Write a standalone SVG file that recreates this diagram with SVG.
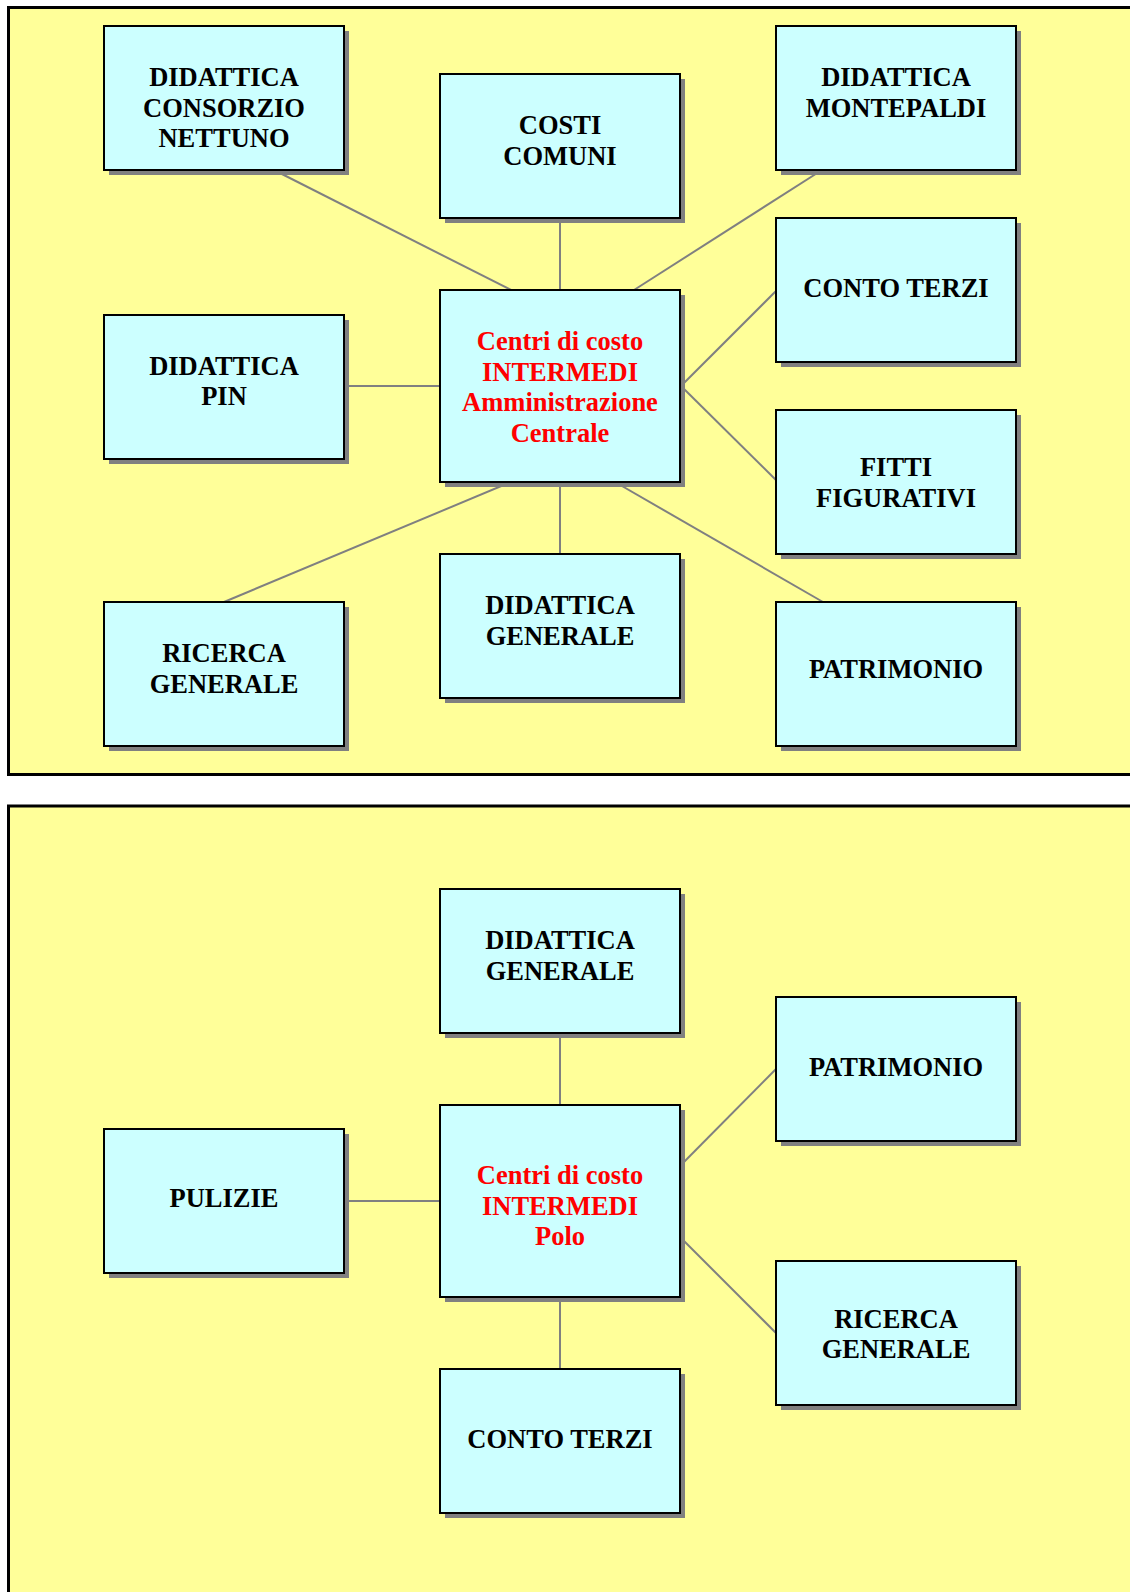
<svg xmlns="http://www.w3.org/2000/svg" width="1130" height="1592" viewBox="0 0 1130 1592">
  <style>
    .frame { fill: #FFFF99; stroke: #000000; stroke-width: 3; }
    .shadow { fill: #808080; }
    .box { fill: #CCFFFF; stroke: #000000; stroke-width: 2; }
    .lbl { font-family: "Liberation Serif", "Times New Roman", serif; font-weight: bold; font-size: 26.5px; fill: #000000; text-anchor: middle; }
    .hub { fill: #FF0000; }
    .conn line { stroke: #808080; stroke-width: 2; }
  </style>
  <defs>
    <rect id="sh" class="shadow" width="240" height="144"/>
    <rect id="shHub" class="shadow" width="240" height="192"/>
    <rect id="card" class="box" width="240" height="144"/>
    <rect id="hubcard" class="box" width="240" height="192"/>
  </defs>

  <rect x="0" y="0" width="1130" height="1592" fill="#FFFFFF"/>

  <!-- upper panel -->
  <rect class="frame" x="8.5" y="7.5" width="1140" height="767"/>
  <!-- lower panel -->
  <rect class="frame" x="8.5" y="806" width="1140" height="800"/>

  <!-- drop shadows (offset 5px), drawn beneath the connectors -->
  <g id="shadows">
    <use href="#sh" x="109" y="31"/>
    <use href="#sh" x="445" y="79"/>
    <use href="#sh" x="781" y="31"/>
    <use href="#sh" x="781" y="223"/>
    <use href="#sh" x="109" y="320"/>
    <use href="#shHub" x="445" y="295"/>
    <use href="#sh" x="781" y="415"/>
    <use href="#sh" x="109" y="607"/>
    <use href="#sh" x="445" y="559"/>
    <use href="#sh" x="781" y="607"/>
    <use href="#sh" x="445" y="894"/>
    <use href="#sh" x="781" y="1002"/>
    <use href="#sh" x="109" y="1134"/>
    <use href="#shHub" x="445" y="1110"/>
    <use href="#sh" x="781" y="1266"/>
    <use href="#sh" x="445" y="1374"/>
  </g>

  <!-- connectors -->
  <g id="connectors" class="conn">
    <line x1="272" y1="169" x2="511" y2="290"/>
    <line x1="560" y1="218" x2="560" y2="290"/>
    <line x1="822" y1="170" x2="634" y2="290"/>
    <line x1="776" y1="291" x2="681" y2="386"/>
    <line x1="776" y1="480" x2="681" y2="386"/>
    <line x1="344" y1="386" x2="440" y2="386"/>
    <line x1="224" y1="602" x2="511" y2="482"/>
    <line x1="560" y1="554" x2="560" y2="482"/>
    <line x1="823" y1="602" x2="615" y2="482"/>

    <line x1="560" y1="1034" x2="560" y2="1105"/>
    <line x1="776" y1="1069" x2="681" y2="1165"/>
    <line x1="344" y1="1201" x2="440" y2="1201"/>
    <line x1="776" y1="1333" x2="681" y2="1238"/>
    <line x1="560" y1="1369" x2="560" y2="1297"/>
  </g>

  <!-- upper panel nodes -->
  <g id="did-consorzio">
    <use href="#card" x="104" y="26"/>
    <text class="lbl" x="224" y="86">DIDATTICA</text>
    <text class="lbl" x="224" y="116.5">CONSORZIO</text>
    <text class="lbl" x="224" y="147">NETTUNO</text>
  </g>
  <g id="costi-comuni">
    <use href="#card" x="440" y="74"/>
    <text class="lbl" x="560" y="134">COSTI</text>
    <text class="lbl" x="560" y="164.5">COMUNI</text>
  </g>
  <g id="did-montepaldi">
    <use href="#card" x="776" y="26"/>
    <text class="lbl" x="896" y="86">DIDATTICA</text>
    <text class="lbl" x="896" y="116.5">MONTEPALDI</text>
  </g>
  <g id="conto-terzi-1">
    <use href="#card" x="776" y="218"/>
    <text class="lbl" x="896" y="296.5">CONTO TERZI</text>
  </g>
  <g id="did-pin">
    <use href="#card" x="104" y="315"/>
    <text class="lbl" x="224" y="374.5">DIDATTICA</text>
    <text class="lbl" x="224" y="405">PIN</text>
  </g>
  <g id="hub-amm">
    <use href="#hubcard" x="440" y="290"/>
    <text class="lbl hub" x="560" y="350">Centri di costo</text>
    <text class="lbl hub" x="560" y="380.5">INTERMEDI</text>
    <text class="lbl hub" x="560" y="411">Amministrazione</text>
    <text class="lbl hub" x="560" y="441.5">Centrale</text>
  </g>
  <g id="fitti">
    <use href="#card" x="776" y="410"/>
    <text class="lbl" x="896" y="476">FITTI</text>
    <text class="lbl" x="896" y="506.5">FIGURATIVI</text>
  </g>
  <g id="ricerca-1">
    <use href="#card" x="104" y="602"/>
    <text class="lbl" x="224" y="662">RICERCA</text>
    <text class="lbl" x="224" y="692.5">GENERALE</text>
  </g>
  <g id="did-generale-1">
    <use href="#card" x="440" y="554"/>
    <text class="lbl" x="560" y="614">DIDATTICA</text>
    <text class="lbl" x="560" y="644.5">GENERALE</text>
  </g>
  <g id="patrimonio-1">
    <use href="#card" x="776" y="602"/>
    <text class="lbl" x="896" y="678">PATRIMONIO</text>
  </g>

  <!-- lower panel nodes -->
  <g id="did-generale-2">
    <use href="#card" x="440" y="889"/>
    <text class="lbl" x="560" y="949">DIDATTICA</text>
    <text class="lbl" x="560" y="979.5">GENERALE</text>
  </g>
  <g id="patrimonio-2">
    <use href="#card" x="776" y="997"/>
    <text class="lbl" x="896" y="1076">PATRIMONIO</text>
  </g>
  <g id="pulizie">
    <use href="#card" x="104" y="1129"/>
    <text class="lbl" x="224" y="1207">PULIZIE</text>
  </g>
  <g id="hub-polo">
    <use href="#hubcard" x="440" y="1105"/>
    <text class="lbl hub" x="560" y="1184">Centri di costo</text>
    <text class="lbl hub" x="560" y="1214.5">INTERMEDI</text>
    <text class="lbl hub" x="560" y="1245">Polo</text>
  </g>
  <g id="ricerca-2">
    <use href="#card" x="776" y="1261"/>
    <text class="lbl" x="896" y="1327.5">RICERCA</text>
    <text class="lbl" x="896" y="1358">GENERALE</text>
  </g>
  <g id="conto-terzi-2">
    <use href="#card" x="440" y="1369"/>
    <text class="lbl" x="560" y="1448">CONTO TERZI</text>
  </g>
</svg>
